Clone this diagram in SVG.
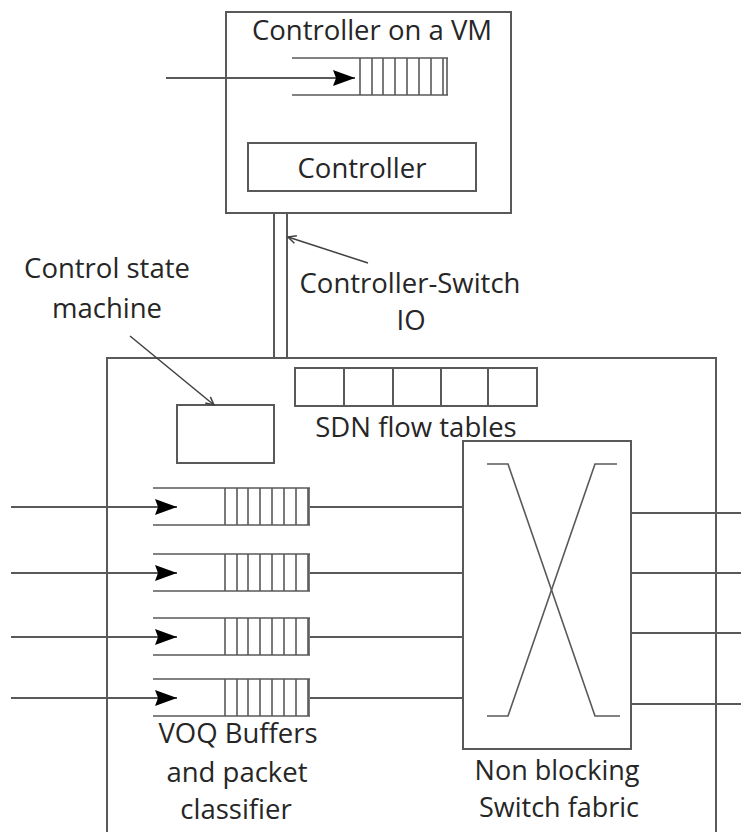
<svg xmlns="http://www.w3.org/2000/svg" width="741" height="832" viewBox="0 0 741 832">
<defs>
<style>
.b{fill:none;stroke:#595959;stroke-width:2}
.l{fill:none;stroke:#595959;stroke-width:2}
.c{fill:none;stroke:#595959;stroke-width:1.6}
.t{font-family:"Open Sans","Liberation Sans",sans-serif;font-size:27.5px;fill:#262626;text-anchor:middle}
</style>
<marker id="fa" markerWidth="22" markerHeight="16" refX="22" refY="8" orient="auto" markerUnits="userSpaceOnUse">
<path d="M0,0 L22,8 L0,16 L3,8 Z" fill="#000"/>
</marker>
<marker id="oa" markerWidth="10" markerHeight="10" refX="9" refY="5" orient="auto" markerUnits="userSpaceOnUse">
<path d="M1,1 L9,5 L1,9" fill="none" stroke="#404040" stroke-width="1.5"/>
</marker>
<g id="cells8">
<line x1="0" y1="0" x2="0" y2="37"/><line x1="12" y1="0" x2="12" y2="37"/><line x1="23" y1="0" x2="23" y2="37"/><line x1="35" y1="0" x2="35" y2="37"/><line x1="47" y1="0" x2="47" y2="37"/><line x1="59" y1="0" x2="59" y2="37"/><line x1="71" y1="0" x2="71" y2="37"/><line x1="83" y1="0" x2="83" y2="37"/>
</g>
</defs>
<rect width="741" height="832" fill="#fff"/>

<g id="controller-vm">
<rect class="b" x="226" y="12" width="285" height="201"/>
<text class="t" x="372" y="40">Controller on a VM</text>
</g>
<g id="vm-queue" class="c">
<line x1="292" y1="58" x2="448" y2="58"/>
<line x1="292" y1="95" x2="448" y2="95"/>
<use href="#cells8" x="360" y="58"/>
<line x1="447" y1="58" x2="447" y2="95"/>
</g>
<g id="controller">
<rect class="b" x="248" y="143" width="228" height="48"/>
<text class="t" x="362" y="178">Controller</text>
</g>

<g id="io-channel">
<rect class="b" x="274" y="213" width="13" height="145"/>
</g>

<g id="switch">
<path class="b" d="M107,832 V358 H716 V832"/>
</g>

<g id="flow-tables">
<rect class="b" x="295" y="368" width="242" height="38"/>
<line class="b" x1="344" y1="368" x2="344" y2="406"/>
<line class="b" x1="393" y1="368" x2="393" y2="406"/>
<line class="b" x1="441" y1="368" x2="441" y2="406"/>
<line class="b" x1="488" y1="368" x2="488" y2="406"/>
<text class="t" x="416" y="437">SDN flow tables</text>
</g>

<g id="control-state-machine">
<rect class="b" x="177" y="405" width="97" height="58"/>
<text class="t" x="107" y="278">Control state</text>
<text class="t" x="107" y="318">machine</text>
</g>

<g id="voq-1" class="c">
<line x1="153" y1="488" x2="310" y2="488"/><line x1="153" y1="525" x2="310" y2="525"/>
<use href="#cells8" x="225" y="488"/><line x1="309" y1="488" x2="309" y2="525"/>
</g>
<g id="voq-2" class="c">
<line x1="153" y1="554" x2="310" y2="554"/><line x1="153" y1="591" x2="310" y2="591"/>
<use href="#cells8" x="225" y="554"/><line x1="309" y1="554" x2="309" y2="591"/>
</g>
<g id="voq-3" class="c">
<line x1="153" y1="618" x2="310" y2="618"/><line x1="153" y1="655" x2="310" y2="655"/>
<use href="#cells8" x="225" y="618"/><line x1="309" y1="618" x2="309" y2="655"/>
</g>
<g id="voq-4" class="c">
<line x1="153" y1="679" x2="310" y2="679"/><line x1="153" y1="716" x2="310" y2="716"/>
<use href="#cells8" x="225" y="679"/><line x1="309" y1="679" x2="309" y2="716"/>
</g>
<g id="voq-label">
<text class="t" x="238" y="743">VOQ Buffers</text>
<text class="t" x="237" y="782">and packet</text>
<text class="t" x="236" y="819">classifier</text>
</g>

<g id="fabric">
<rect class="b" x="463" y="441" width="168" height="308"/>
<path class="c" d="M487,464 H508 L595,716 H620"/>
<path class="c" d="M617,464 H595 L508,716 H487"/>
<text class="t" x="557" y="780" style="font-size:27px">Non blocking</text>
<text class="t" x="559" y="817" style="font-size:27px">Switch fabric</text>
</g>

<g id="io-label">
<text class="t" x="410" y="293">Controller-Switch</text>
<text class="t" x="411" y="330">IO</text>
</g>

<g id="connectors">
<line class="l" x1="166" y1="78" x2="355" y2="78" marker-end="url(#fa)"/>
<line class="l" x1="11" y1="507" x2="177" y2="507" marker-end="url(#fa)"/>
<line class="l" x1="11" y1="573" x2="177" y2="573" marker-end="url(#fa)"/>
<line class="l" x1="11" y1="637" x2="177" y2="637" marker-end="url(#fa)"/>
<line class="l" x1="11" y1="698" x2="177" y2="698" marker-end="url(#fa)"/>
<line class="l" x1="310" y1="507" x2="463" y2="507"/>
<line class="l" x1="310" y1="573" x2="463" y2="573"/>
<line class="l" x1="310" y1="637" x2="463" y2="637"/>
<line class="l" x1="310" y1="698" x2="463" y2="698"/>
<line class="l" x1="631" y1="513" x2="741" y2="513"/>
<line class="l" x1="631" y1="573" x2="741" y2="573"/>
<line class="l" x1="631" y1="633" x2="741" y2="633"/>
<line class="l" x1="631" y1="704" x2="741" y2="704"/>
<line x1="368" y1="263" x2="288" y2="237" stroke="#404040" stroke-width="1.5" marker-end="url(#oa)"/>
<line x1="130" y1="336" x2="214" y2="405" stroke="#404040" stroke-width="1.5" marker-end="url(#oa)"/>
</g>
</svg>
